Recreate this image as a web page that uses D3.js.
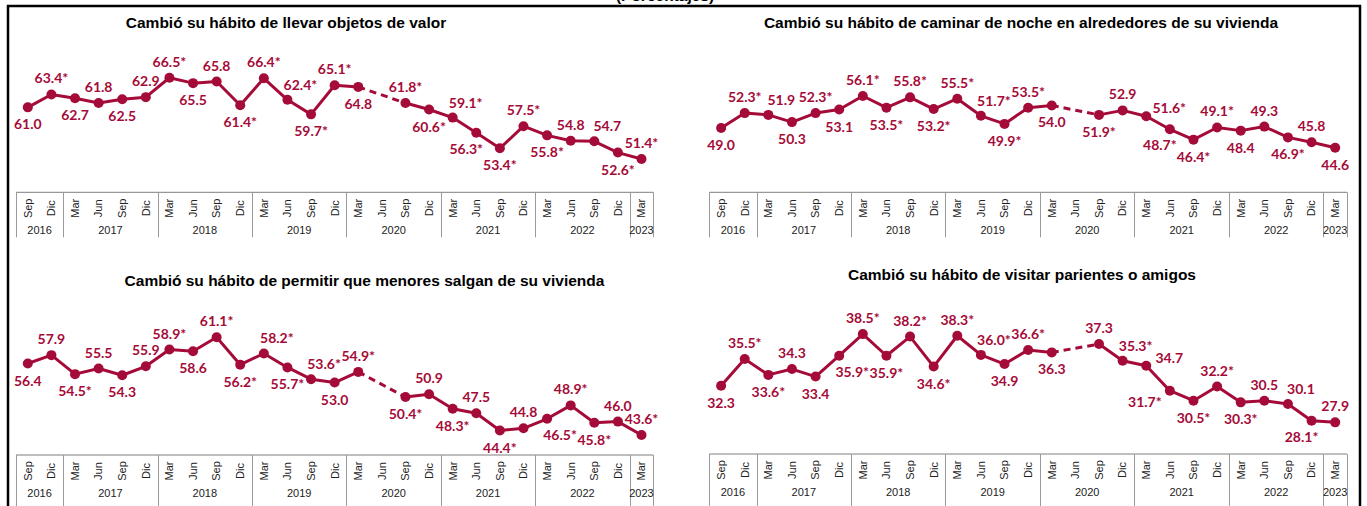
<!DOCTYPE html>
<meta charset="utf-8">
<script src="https://cdn.jsdelivr.net/npm/d3@7"></script>
<style>
  body { margin: 0; background: #fff; }
</style>
<div id="my_dataviz"></div>
<script>

// category axis: quarter labels and the year groups under them
var months = ["Sep","Dic","Mar","Jun","Sep","Dic","Mar","Jun","Sep","Dic","Mar","Jun","Sep","Dic",
              "Mar","Jun","Sep","Dic","Mar","Jun","Sep","Dic","Mar","Jun","Sep","Dic","Mar"];
var years = ["2016","2017","2018","2019","2020","2021","2022","2023"];
var yearSpan = [2, 4, 4, 4, 4, 4, 4, 1];

// series (null = no survey in Jun 2020), 1 = significant change (asterisk)
var objetos    = [61.0,63.4,62.7,61.8,62.5,62.9,66.5,65.5,65.8,61.4,66.4,62.4,59.7,65.1,64.8,null,61.8,60.6,59.1,56.3,53.4,57.5,55.8,54.8,54.7,52.6,51.4];
var objetosSig = [0,1,0,0,0,0,1,0,0,1,1,1,1,1,0,0,1,1,1,1,1,1,1,0,0,1,1];

var caminar    = [49.0,52.3,51.9,50.3,52.3,53.1,56.1,53.5,55.8,53.2,55.5,51.7,49.9,53.5,54.0,null,51.9,52.9,51.6,48.7,46.4,49.1,48.4,49.3,46.9,45.8,44.6];
var caminarSig = [0,1,0,0,1,0,1,1,1,1,1,1,1,1,0,0,1,0,1,1,1,1,0,0,1,0,0];

var menores    = [56.4,57.9,54.5,55.5,54.3,55.9,58.9,58.6,61.1,56.2,58.2,55.7,53.6,53.0,54.9,null,50.4,50.9,48.3,47.5,44.4,44.8,46.5,48.9,45.8,46.0,43.6];
var menoresSig = [0,0,1,0,0,0,1,0,1,1,1,1,1,0,1,0,1,0,1,0,1,0,1,1,1,0,1];

var visitar    = [32.3,35.5,33.6,34.3,33.4,35.9,38.5,35.9,38.2,34.6,38.3,36.0,34.9,36.6,36.3,null,37.3,35.3,34.7,31.7,30.5,32.2,30.3,30.5,30.1,28.1,27.9];
var visitarSig = [0,1,1,0,0,1,1,1,1,1,1,1,0,1,0,0,0,1,0,1,1,1,1,0,0,1,0];

// where each data label sits relative to its point
var objetosPos = ["b","a","b","a","b","a","a","b","a","b","a","ar","b","a","b","","a","b","ar","bl","b","a","b","a","ar","b","a"];
var caminarPos = ["b","a","ar","b","a","b","a","b","a","b","a","ar","b","a","b","","b","a","r","bl","b","a","b","a","b","a","b"];
var menoresPos = ["b","a","b","a","b","a","a","b","a","b","ar","b","ar","b","a","","b","a","b","a","b","a","br","a","b","a","a"];
var visitarPos = ["b","a","b","a","b","br","a","b","a","b","a","ar","b","a","b","","a","ar","r","l","b","a","b","a","ar","bl","a"];

var offs = { a:[0,-16], b:[0,17], ar:[13,-15], br:[13,16], bl:[-10,16], r:[23,-8], l:[-25,11] };

var width = 1367, height = 506;
var red = "#a50b38";

var panels = [
  { title: "Cambió su hábito de llevar objetos de valor", values: objetos, sig: objetosSig, pos: objetosPos,
    x0: 16, x1: 653.3, tableTop: 192.3, tableH: 45, yDom: [45, 75], yRange: [193.5, 32], titleX: 286, titleY: 27.5 },
  { title: "Cambió su hábito de caminar de noche en alrededores de su vivienda", values: caminar, sig: caminarSig, pos: caminarPos,
    x0: 709.3, x1: 1347, tableTop: 192.3, tableH: 45, yDom: [35, 70], yRange: [190.9, 33.5], titleX: 1021, titleY: 27.5 },
  { title: "Cambió su hábito de permitir que menores salgan de su vivienda", values: menores, sig: menoresSig, pos: menoresPos,
    x0: 16, x1: 653.3, tableTop: 455, tableH: 52, yDom: [40, 70], yRange: [455.1, 287.6], titleX: 364.5, titleY: 286 },
  { title: "Cambió su hábito de visitar parientes o amigos", values: visitar, sig: visitarSig, pos: visitarPos,
    x0: 709.3, x1: 1347, tableTop: 454, tableH: 52, yDom: [25, 40], yRange: [446.5, 321.6], titleX: 1022, titleY: 279.5 }
];

var svg = d3.select("#my_dataviz")
  .append("svg")
    .attr("width", width)
    .attr("height", height);

// subtitle, only its lower edge shows above the frame
svg.append("text")
  .attr("x", 665).attr("y", 1)
  .attr("text-anchor", "middle")
  .style("font", "bold 15.5px 'Liberation Sans', Arial, sans-serif")
  .text("(Porcentajes)");

// outer frame
svg.append("path")
  .attr("d", "M8,510V6H1360V510")
  .attr("fill", "none")
  .attr("stroke", "#000")
  .attr("stroke-width", 2.5);

panels.forEach(function(p) {
  var g = svg.append("g");

  var x = d3.scaleBand().domain(d3.range(months.length)).range([p.x0, p.x1]);
  var cx = function(i) { return x(i) + x.bandwidth() / 2; };
  var y = d3.scaleLinear().domain(p.yDom).range(p.yRange);

  var pts = p.values.map(function(v, i) { return { i: i, v: v, sig: p.sig[i], pos: p.pos[i] }; });
  var valid = pts.filter(function(d) { return d.v != null; });

  g.append("text")
    .attr("x", p.titleX).attr("y", p.titleY)
    .attr("text-anchor", "middle")
    .style("font", "bold 15.5px 'Liberation Sans', Arial, sans-serif")
    .attr("fill", "#000")
    .text(p.title);

  // category table
  g.append("line")
    .attr("x1", p.x0).attr("x2", p.x1)
    .attr("y1", p.tableTop).attr("y2", p.tableTop)
    .attr("stroke", "#7f7f7f");

  var bounds = [0];
  yearSpan.forEach(function(n, k) { bounds.push(bounds[k] + n); });
  g.selectAll(".sep")
    .data(bounds)
    .enter().append("line")
    .attr("x1", function(b) { return Math.round(p.x0 + b * x.step()) + 0.5; })
    .attr("x2", function(b) { return Math.round(p.x0 + b * x.step()) + 0.5; })
    .attr("y1", p.tableTop).attr("y2", p.tableTop + p.tableH)
    .attr("stroke", "#9a9a9a");

  g.selectAll(".mon")
    .data(months)
    .enter().append("text")
    .attr("transform", function(m, i) { return "translate(" + cx(i) + "," + (p.tableTop + 16) + ") rotate(-90)"; })
    .attr("text-anchor", "middle")
    .attr("dy", "0.35em")
    .style("font", "11px 'Liberation Sans Narrow', 'Liberation Sans', Arial, sans-serif")
    .attr("fill", "#222")
    .text(function(m) { return m; });

  g.selectAll(".yr")
    .data(years)
    .enter().append("text")
    .attr("x", function(yv, k) { return p.x0 + (bounds[k] + yearSpan[k] / 2) * x.step(); })
    .attr("y", p.tableTop + 42)
    .attr("text-anchor", "middle")
    .style("font", "11px 'Liberation Sans Narrow', 'Liberation Sans', Arial, sans-serif")
    .attr("fill", "#222")
    .text(function(yv) { return yv; });

  // solid line with a gap for Jun 2020, dashed bridge over the gap
  var line = d3.line()
    .defined(function(d) { return d.v != null; })
    .x(function(d) { return cx(d.i); })
    .y(function(d) { return y(d.v); });

  g.append("path")
    .datum(pts)
    .attr("d", line)
    .attr("fill", "none")
    .attr("stroke", red)
    .attr("stroke-width", 3)
    .attr("stroke-linejoin", "round");

  g.append("path")
    .datum([pts[14], pts[16]])
    .attr("d", line)
    .attr("fill", "none")
    .attr("stroke", red)
    .attr("stroke-width", 3)
    .attr("stroke-dasharray", "7,5");

  g.selectAll(".dot")
    .data(valid)
    .enter().append("circle")
    .attr("cx", function(d) { return cx(d.i); })
    .attr("cy", function(d) { return y(d.v); })
    .attr("r", 5)
    .attr("fill", red);

  g.selectAll(".lbl")
    .data(valid)
    .enter().append("text")
    .attr("x", function(d) { return cx(d.i) + offs[d.pos][0]; })
    .attr("y", function(d) { return y(d.v) + offs[d.pos][1] + 5; })
    .attr("text-anchor", "middle")
    .style("font", "bold 14px Lato, 'Open Sans', sans-serif")
    .attr("fill", red)
    .text(function(d) { return d.v.toFixed(1) + (d.sig ? "*" : ""); });
});

</script>
